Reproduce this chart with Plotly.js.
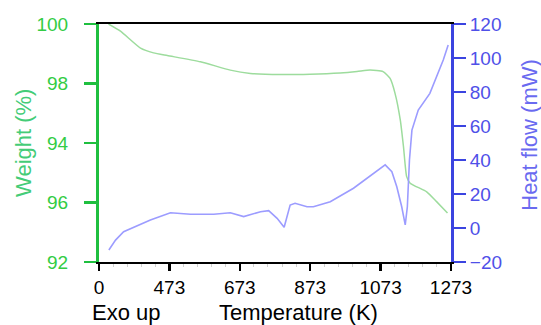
<!DOCTYPE html>
<html>
<head>
<meta charset="utf-8">
<script src="https://cdn.plot.ly/plotly-3.0.1.min.js"></script>
<style>
html,body{margin:0;padding:0;background:#fff;}
#chart{width:541px;height:325px;}
</style>
</head>
<body>
<div id="chart"></div>
<script>
// Weight (%) curve
var weightT = [300, 334, 391, 428, 467, 561, 646, 703, 788, 873, 958, 1006, 1043, 1080, 1100, 1114, 1129, 1138, 1147, 1157, 1204, 1232, 1263];
var weightV = [100.0, 99.76, 99.19, 99.03, 98.94, 98.73, 98.45, 98.34, 98.30, 98.31, 98.35, 98.40, 98.45, 98.40, 98.17, 97.67, 96.77, 95.88, 94.87, 94.65, 94.36, 94.03, 93.65];

// Heat flow (mW) curve
var heatT = [301, 320, 343, 372, 419, 476, 504, 533, 599, 646, 684, 732, 755, 779, 799, 816, 830, 864, 882, 930, 996, 1053, 1086, 1105, 1119, 1133, 1143, 1149, 1155, 1162, 1180, 1213, 1251, 1265];
var heatV = [-12.9, -7.1, -2.2, 0.4, 4.7, 9.0, 8.6, 8.1, 8.1, 9.0, 6.7, 9.6, 10.2, 5.7, 0.4, 13.5, 14.5, 12.5, 12.5, 15.5, 23.4, 32.2, 37.1, 33.1, 24.3, 12.5, 1.8, 12.5, 40.0, 57.6, 69.4, 79.2, 98.8, 107.6];

// Tick labels
var xTickVals = [273, 473, 673, 873, 1073, 1273];
var xTickText = ["0", "473", "673", "873", "1073", "1273"];
var yTickVals = [92, 94, 96, 98, 100];
var yTickText = ["92", "96", "94", "98", "100"];

var FONT = "Liberation Sans, Arial, sans-serif";

var traces = [
  {x: weightT, y: weightV, type: 'scatter', mode: 'lines', yaxis: 'y',
   line: {color: '#9ddc9d', width: 1.5, shape: 'spline', smoothing: 0.5}, hoverinfo: 'skip'},
  {x: heatT, y: heatV, type: 'scatter', mode: 'lines', yaxis: 'y2',
   line: {color: '#9c9cff', width: 1.6}, hoverinfo: 'skip'}
];

var layout = {
  width: 541, height: 325,
  margin: {l: 99, r: 90, t: 24, b: 63},
  paper_bgcolor: '#fff', plot_bgcolor: '#fff',
  showlegend: false,
  font: {family: FONT, size: 19, color: '#000'},
  xaxis: {
    range: [273, 1273], tickmode: 'array', tickvals: xTickVals, ticktext: xTickText,
    showgrid: false, zeroline: false,
    showline: true, linecolor: '#000', linewidth: 2, mirror: true,
    ticks: 'outside', ticklen: 7, tickwidth: 2.5, tickcolor: '#000',
    tickfont: {family: FONT, size: 19, color: '#000'},
    minor: {tickmode: 'linear', tick0: 273, dtick: 40, ticks: 'outside', ticklen: 3, tickwidth: 1, tickcolor: '#d0d0d0'}
  },
  yaxis: {
    range: [92, 100], tickmode: 'array', tickvals: yTickVals, ticktext: yTickText,
    showgrid: false, zeroline: false,
    showline: true, linecolor: '#1fbf3f', linewidth: 3,
    ticks: 'outside', ticklen: 12, tickwidth: 2.5, tickcolor: '#1fbf3f',
    ticklabelposition: 'outside', ticklabelstandoff: 12,
    tickfont: {family: FONT, size: 19, color: '#33cc44'}
  },
  yaxis2: {
    overlaying: 'y', side: 'right',
    range: [-20, 120], tickmode: 'linear', tick0: -20, dtick: 20,
    showgrid: false, zeroline: false,
    showline: true, linecolor: '#3b44e0', linewidth: 3,
    ticks: 'outside', ticklen: 12, tickwidth: 2.5, tickcolor: '#3b44e0',
    tickfont: {family: FONT, size: 19, color: '#4f50e8'}
  },
  annotations: [
    {text: 'Weight (%)', xref: 'paper', yref: 'paper', x: -0.216, y: 0.5, textangle: -90,
     xanchor: 'center', yanchor: 'middle', showarrow: false,
     font: {family: FONT, size: 22, color: '#44cc77'}},
    {text: 'Heat flow (mW)', xref: 'paper', yref: 'paper', x: 1.224, y: 0.534, textangle: -90,
     xanchor: 'center', yanchor: 'middle', showarrow: false,
     font: {family: FONT, size: 22, color: '#6a6af0'}},
    {text: 'Exo up', xref: 'paper', yref: 'paper', x: -0.026, y: -0.212,
     xanchor: 'left', yanchor: 'middle', showarrow: false,
     font: {family: FONT, size: 22, color: '#000'}},
    {text: 'Temperature (K)', xref: 'paper', yref: 'paper', x: 0.566, y: -0.212,
     xanchor: 'center', yanchor: 'middle', showarrow: false,
     font: {family: FONT, size: 22, color: '#000'}}
  ]
};

Plotly.newPlot('chart', traces, layout, {staticPlot: true, displayModeBar: false});
</script>
</body>
</html>
